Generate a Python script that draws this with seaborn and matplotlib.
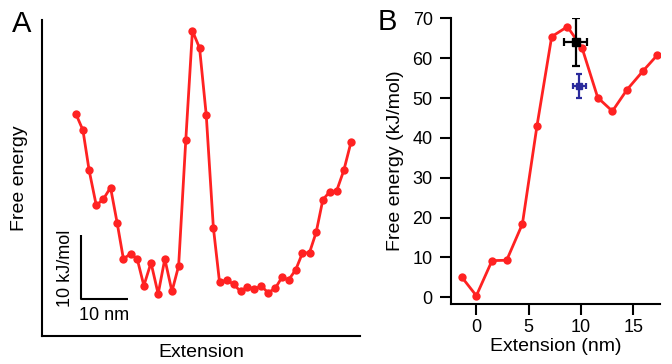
import matplotlib
matplotlib.use("Agg")
import matplotlib.pyplot as plt
import seaborn as sns
import pandas as pd

# ---- Panel A data (extension in nm, free energy in kJ/mol) ----
a_ext = [7.1, 8.6, 9.9, 11.4, 12.9, 14.4, 15.8, 17.1, 18.6, 20.0, 21.4, 22.9,
         24.4, 25.8, 27.3, 28.7, 30.2, 31.6, 33.1, 34.5, 36.0, 37.3, 38.8,
         40.3, 41.7, 43.1, 44.6, 46.1, 47.5, 49.0, 50.4, 51.8, 53.3, 54.7,
         56.2, 57.6, 59.0, 60.4, 61.9, 63.4, 64.9]
a_energy = [34.9, 32.3, 26.0, 20.5, 21.5, 23.3, 17.7, 12.1, 12.9, 12.1, 7.9,
            11.5, 6.6, 12.1, 7.0, 11.0, 30.7, 47.9, 45.2, 34.7, 17.0, 8.4,
            8.8, 8.1, 7.0, 7.7, 7.4, 7.8, 6.8, 7.5, 9.2, 8.8, 10.4, 13.0,
            13.1, 16.3, 21.4, 22.6, 22.8, 26.0, 30.4]

# ---- Panel B data ----
b_ext = [-1.4, 0.0, 1.5, 2.9, 4.4, 5.8, 7.2, 8.7, 10.1, 11.6, 13.0, 14.4,
         15.9, 17.3]
b_energy = [5.1, 0.4, 9.2, 9.3, 18.4, 43.1, 65.4, 67.9, 62.6, 50.1, 46.7,
            52.1, 56.7, 60.8]
b_black_x, b_black_y, b_black_xerr, b_black_yerr = [9.5], [64.1], [1.1], [6.0]
b_blue_x, b_blue_y, b_blue_xerr, b_blue_yerr = [9.85], [53.0], [0.6], [3.0]
b_xticks = [0, 5, 10, 15]
b_yticks = [0, 10, 20, 30, 40, 50, 60, 70]

RED = "#ff2222"
BLUE = "#2a2a9c"

sns.set_style("ticks")
plt.rcParams["font.family"] = ["Liberation Sans", "DejaVu Sans"]
plt.rcParams["axes.linewidth"] = 1.5
plt.rcParams["text.color"] = "black"
plt.rcParams["axes.labelcolor"] = "black"
plt.rcParams["axes.edgecolor"] = "black"
plt.rcParams["xtick.color"] = "black"
plt.rcParams["ytick.color"] = "black"

W, H = 672, 364
fig = plt.figure(figsize=(W / 100, H / 100), dpi=100)

def px_axes(l, r, t, b):
    return fig.add_axes([l / W, 1 - b / H, (r - l) / W, (b - t) / H])

# ---------------- Panel A ----------------
axA = px_axes(42, 360, 20, 336)
dfA = pd.DataFrame({"Extension": a_ext, "Energy": a_energy})
sns.lineplot(data=dfA, x="Extension", y="Energy", ax=axA, color=RED,
             linewidth=2.0, marker="o", markersize=6, markeredgewidth=0,
             markerfacecolor=RED)
axA.set_xlim(0, 66.8)
axA.set_ylim(0, 49.6)
axA.set_xticks([])
axA.set_yticks([])
sns.despine(ax=axA)
axA.set_xlabel("Extension", fontsize=14, labelpad=6)
axA.set_ylabel("Free energy", fontsize=14, labelpad=10)
# scale bar
sb_x0, sb_y0 = 8.1, 5.8
axA.plot([sb_x0, sb_x0, sb_x0 + 10], [sb_y0 + 10, sb_y0, sb_y0],
         color="black", linewidth=1.5, solid_capstyle="butt", clip_on=False)
axA.text(sb_x0 - 1.3, sb_y0 + 4.8, "10 kJ/mol", rotation=90, fontsize=13,
         ha="right", va="center")
axA.text(sb_x0 + 5, sb_y0 - 1.2, "10 nm", fontsize=13, ha="center", va="top")
fig.text(12 / W, 1 - 24 / H, "A", fontsize=21, ha="left", va="center")

# ---------------- Panel B ----------------
axB = px_axes(450.7, 660, 18.3, 304)
dfB = pd.DataFrame({"Extension": b_ext, "Energy": b_energy})
sns.lineplot(data=dfB, x="Extension", y="Energy", ax=axB, color=RED,
             linewidth=2.0, marker="o", markersize=6, markeredgewidth=0,
             markerfacecolor=RED)
axB.errorbar(b_black_x, b_black_y, xerr=b_black_xerr, yerr=b_black_yerr,
             fmt="s", color="black", markersize=5.5, elinewidth=1.6,
             capsize=3, capthick=1.6, zorder=5)
axB.errorbar(b_blue_x, b_blue_y, xerr=b_blue_xerr, yerr=b_blue_yerr,
             fmt="s", color=BLUE, markersize=5, elinewidth=1.6,
             capsize=2.5, capthick=1.6, zorder=5)
axB.set_xlim(-2.45, 17.55)
axB.set_ylim(-1.68, 70)
axB.set_xticks(b_xticks)
axB.set_yticks(b_yticks)
sns.despine(ax=axB)
axB.tick_params(axis="both", labelsize=13, length=8, width=1.5,
                color="black", labelcolor="black")
axB.tick_params(axis="y", pad=5)
axB.tick_params(axis="x", pad=3)
axB.set_xlabel("Extension (nm)", fontsize=14, labelpad=1)
axB.set_ylabel("Free energy (kJ/mol)", fontsize=14, labelpad=6)
fig.text(378 / W, 1 - 22 / H, "B", fontsize=21, ha="left", va="center")

fig.savefig("out.png", dpi=100)
